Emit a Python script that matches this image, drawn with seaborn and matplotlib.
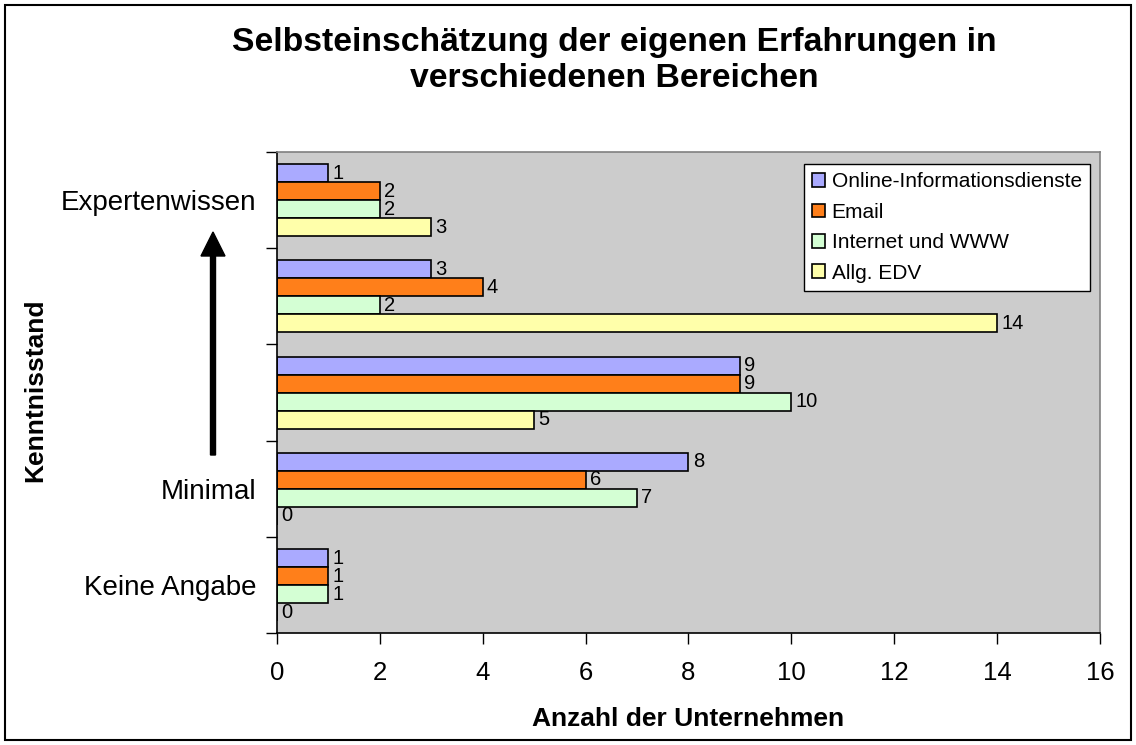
import pandas as pd
import matplotlib.pyplot as plt
import seaborn as sns
from matplotlib.patches import Rectangle, FancyArrow

# Data
levels = ["Expertenwissen", "Stufe 4", "Stufe 3", "Minimal", "Keine Angabe"]
level_ticks = ["Expertenwissen", "", "", "Minimal", "Keine Angabe"]
areas = ["Online-Informationsdienste", "Email", "Internet und WWW", "Allg. EDV"]
online = [1, 3, 9, 8, 1]
email = [2, 4, 9, 6, 1]
internet = [2, 2, 10, 7, 1]
edv = [3, 14, 5, 0, 0]
colors = ["#AAAAFF", "#FF7F1A", "#D4FFD4", "#FFFFAA"]

rows = []
for area, vals in zip(areas, [online, email, internet, edv]):
    for lvl, v in zip(levels, vals):
        rows.append({"Kenntnisstand": lvl, "Bereich": area, "Anzahl": v})
df = pd.DataFrame(rows)

sns.set_style("white")
plt.rcParams['font.family'] = ['Liberation Sans', 'DejaVu Sans']
for key in ["text.color", "axes.labelcolor", "xtick.color", "ytick.color"]:
    plt.rcParams[key] = "black"

fig = plt.figure(figsize=(11.36, 7.45), dpi=100)
ax = fig.add_axes([0.2438, 0.150, 0.7245, 0.646])
ax.set_facecolor("#CCCCCC")

sns.barplot(data=df, y="Kenntnisstand", x="Anzahl", hue="Bereich",
            order=levels, hue_order=areas, palette=colors, orient="h",
            width=0.75, saturation=1, edgecolor="black", linewidth=1.2, ax=ax,
            legend=True)

for cont in ax.containers:
    ax.bar_label(cont, padding=3, fontsize=14.5, color="black")

ax.set_xlim(0, 16)
ax.set_xticks(range(0, 17, 2))
ax.set_ylim(4.5, -0.5)
ax.set_yticks(range(len(levels)))
ax.set_yticklabels(level_ticks)
ax.set_yticks([i - 0.5 for i in range(len(levels) + 1)], minor=True)
ax.tick_params(axis="y", which="major", length=0, pad=15, labelsize=20)
ax.tick_params(axis="y", which="minor", length=8, width=1, color="black", direction="out", left=True)
ax.tick_params(axis="x", length=8, width=1, color="black", direction="out", bottom=True, labelsize=18.5, pad=12)

for side in ["left", "bottom"]:
    ax.spines[side].set_color("black")
    ax.spines[side].set_linewidth(1.2)
for side in ["top", "right"]:
    ax.spines[side].set_color("#808080")
    ax.spines[side].set_linewidth(1.2)

ax.set_xlabel("Anzahl der Unternehmen", fontsize=19, fontweight="bold", labelpad=16)
ax.set_ylabel("")
fig.text(0.031, 0.476, "Kenntnisstand", rotation=90, ha="center", va="center",
         fontsize=19, fontweight="bold")

fig.suptitle("Selbsteinschätzung der eigenen Erfahrungen in\nverschiedenen Bereichen",
             x=0.541, y=0.964, fontsize=24.3, fontweight="bold", linespacing=1.2)

leg = ax.legend(loc="upper right", bbox_to_anchor=(0.988, 0.975), fontsize=15,
                frameon=True, fancybox=False, edgecolor="black", framealpha=1,
                handlelength=0.65, handleheight=0.65, handletextpad=0.3,
                labelspacing=0.55, borderpad=0.4, borderaxespad=0)
leg.get_frame().set_linewidth(1)

# arrow pointing towards higher knowledge
fig.patches.append(FancyArrow(
    213 / 1136, 1 - 455 / 745, 0, (455 - 232) / 745, width=5 / 1136,
    head_width=24 / 1136, head_length=24 / 745, length_includes_head=True,
    color="black", transform=fig.transFigure, figure=fig))

fig.patches.append(Rectangle((5 / 1136, 5 / 745), 1126 / 1136, 735 / 745,
                             fill=False, edgecolor="black", linewidth=1.5,
                             transform=fig.transFigure, figure=fig))

plt.savefig("out.png", dpi=100)
